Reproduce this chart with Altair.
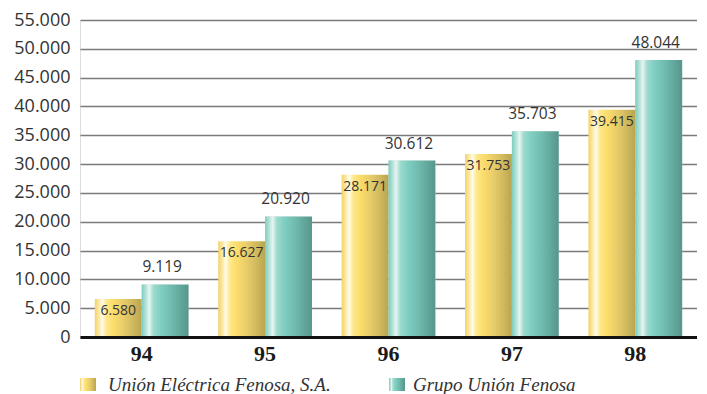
import altair as alt
import pandas as pd

years = ["94", "95", "96", "97", "98"]
union_electrica = [6580, 16627, 28171, 31753, 39415]
grupo_union = [9119, 20920, 30612, 35703, 48044]
series_names = ["Unión Eléctrica Fenosa, S.A.", "Grupo Unión Fenosa"]

rows = []
for i, y in enumerate(years):
    rows.append({"year": y, "series": series_names[0], "value": union_electrica[i]})
    rows.append({"year": y, "series": series_names[1], "value": grupo_union[i]})
df = pd.DataFrame(rows)
df["label"] = df["value"].map(lambda v: f"{v:,}".replace(",", "."))

W, H = 617, 317

yellow_grad = {
    "gradient": "linear", "x1": 0, "y1": 0, "x2": 1, "y2": 0,
    "stops": [
        {"offset": 0.0, "color": "#f3d266"},
        {"offset": 0.09, "color": "#fbe9a8"},
        {"offset": 0.16, "color": "#fffbe8"},
        {"offset": 0.25, "color": "#fde88a"},
        {"offset": 0.4, "color": "#fcdc6a"},
        {"offset": 0.6, "color": "#e8cd6a"},
        {"offset": 0.8, "color": "#d2bb5e"},
        {"offset": 1.0, "color": "#b9a552"},
    ],
}
teal_grad = {
    "gradient": "linear", "x1": 0, "y1": 0, "x2": 1, "y2": 0,
    "stops": [
        {"offset": 0.0, "color": "#7ccdbf"},
        {"offset": 0.09, "color": "#b5e2d9"},
        {"offset": 0.16, "color": "#e6f5f1"},
        {"offset": 0.25, "color": "#9fdacf"},
        {"offset": 0.4, "color": "#80cfc2"},
        {"offset": 0.6, "color": "#72bfb2"},
        {"offset": 0.8, "color": "#64aa9e"},
        {"offset": 1.0, "color": "#57968c"},
    ],
}
shadow_grad = {
    "gradient": "linear", "x1": 0, "y1": 0, "x2": 1, "y2": 0,
    "stops": [
        {"offset": 0.0, "color": "#cfcdc6"},
        {"offset": 0.57, "color": "#d8d6d0"},
        {"offset": 1.0, "color": "#ffffff"},
    ],
}

x_enc = alt.X(
    "year:N",
    sort=years,
    scale=alt.Scale(paddingInner=0.24, paddingOuter=0.12),
    axis=alt.Axis(
        title=None, ticks=False, labelAngle=0, labelPadding=6,
        labelFont="Liberation Serif", labelFontWeight="bold", labelFontSize=22,
        labelColor="#1a1a1a", domainColor="#111111", domainWidth=3, grid=False,
        zindex=1,
    ),
)
xo_enc = alt.XOffset("series:N", sort=series_names,
                     scale=alt.Scale(domain=series_names, paddingInner=0, paddingOuter=0))
y_enc = alt.Y(
    "value:Q",
    scale=alt.Scale(domain=[0, 55000], nice=False),
    axis=alt.Axis(
        title=None, values=list(range(0, 55001, 5000)), ticks=False, domain=False,
        labelPadding=10, labelFont="Open Sans", labelFontSize=18, labelColor="#333333",
        labelExpr="replace(format(datum.value, ','), ',', '.')",
        gridColor="#7a7a7a", gridWidth=1.3, minExtent=72, maxExtent=72,
    ),
)

base = alt.Chart(df)

shadow_g = base.transform_filter(alt.datum.series == series_names[1]).mark_bar(
    color=shadow_grad, xOffset=20, opacity=0.7
).encode(x=x_enc, xOffset=xo_enc, y=y_enc)
bars_u = base.transform_filter(alt.datum.series == series_names[0]).mark_bar(
    color=yellow_grad
).encode(x=x_enc, xOffset=xo_enc, y=y_enc)
bars_g = base.transform_filter(alt.datum.series == series_names[1]).mark_bar(
    color=teal_grad
).encode(x=x_enc, xOffset=xo_enc, y=y_enc)

txt_u = base.transform_filter(alt.datum.series == series_names[0]).mark_text(
    font="Open Sans", fontSize=14, color="#333333", baseline="middle", dy=12
).encode(x=x_enc, xOffset=xo_enc, y=y_enc, text="label:N")
txt_g = base.transform_filter(alt.datum.series == series_names[1]).mark_text(
    font="Open Sans", fontSize=15.5, color="#333333", baseline="middle", dy=-17, dx=-3
).encode(x=x_enc, xOffset=xo_enc, y=y_enc, text="label:N")

one = alt.Chart(pd.DataFrame({"a": [0]}))
leg_sq_u = one.mark_rect(color=yellow_grad).encode(
    x=alt.value(0), x2=alt.value(16), y=alt.value(358), y2=alt.value(371))
leg_sq_g = one.mark_rect(color=teal_grad).encode(
    x=alt.value(309), x2=alt.value(325), y=alt.value(358), y2=alt.value(371))
leg_t_u = one.mark_text(
    font="Liberation Serif", fontStyle="italic", fontSize=19, color="#333333",
    align="left", baseline="middle"
).encode(x=alt.value(28), y=alt.value(365), text=alt.value(series_names[0]))
leg_t_g = one.mark_text(
    font="Liberation Serif", fontStyle="italic", fontSize=19, color="#333333",
    align="left", baseline="middle"
).encode(x=alt.value(333), y=alt.value(365), text=alt.value(series_names[1]))

chart = alt.layer(
    shadow_g, bars_u, bars_g, txt_u, txt_g, leg_sq_u, leg_sq_g, leg_t_u, leg_t_g
).properties(
    width=W, height=H, padding={"left": 0, "top": 3, "right": 0, "bottom": 0}
).configure_view(stroke=None).configure(background="white")

chart.save("out.html", embed_options={"renderer": "svg", "actions": False})
